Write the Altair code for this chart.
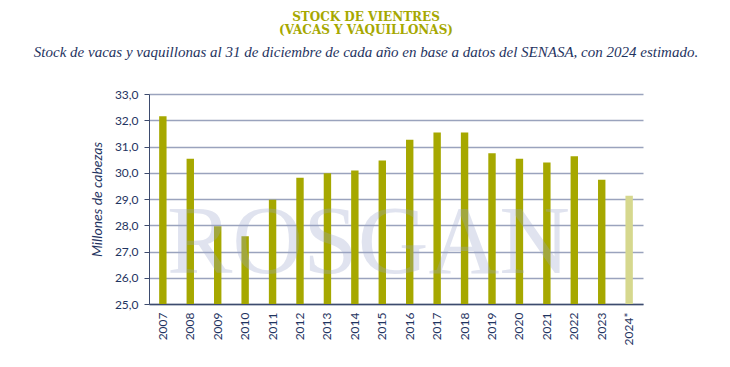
import altair as alt
import pandas as pd

years = ["2007", "2008", "2009", "2010", "2011", "2012", "2013", "2014", "2015",
         "2016", "2017", "2018", "2019", "2020", "2021", "2022", "2023", "2024*"]
values = [32.15, 30.53, 27.96, 27.58, 28.97, 29.81, 29.98, 30.09, 30.47,
          31.26, 31.53, 31.53, 30.74, 30.53, 30.39, 30.63, 29.73, 29.12]
kind = ["real"] * 17 + ["estimado"]

df = pd.DataFrame({"year": years, "value": values, "kind": kind})

NAVY = "#1f3461"
OLIVE = "#a6a800"

bars = alt.Chart(df).mark_bar(clip=True).encode(
    x=alt.X("year:N", sort=years, title=None,
            scale=alt.Scale(paddingInner=0.73, paddingOuter=0.37),
            axis=alt.Axis(labelAngle=-90, labelFont="Lato", labelFontSize=12,
                          labelColor=NAVY, ticks=False, domain=True,
                          domainColor="#3d4b6e", domainWidth=1.5,
                          labelPadding=8, labelBaseline="middle", labelAlign="right")),
    y=alt.Y("value:Q", title="Millones de cabezas",
            scale=alt.Scale(domain=[25, 33], zero=False, nice=False),
            axis=alt.Axis(values=[25, 26, 27, 28, 29, 30, 31, 32, 33],
                          labelExpr="replace(format(datum.value, '.1f'), '.', ',')",
                          labelFont="Lato", labelFontSize=12, labelColor=NAVY,
                          tickColor="#3d4b6e", tickSize=5, labelPadding=6,
                          domain=True, domainColor="#3d4b6e",
                          grid=True, gridColor="#9aa3bd", gridWidth=1.3,
                          titleFont="Lato", titleFontStyle="italic",
                          titleFontWeight="normal", titleFontSize=14,
                          titleColor=NAVY, titlePadding=10)),
    color=alt.Color("kind:N", scale=alt.Scale(domain=["real", "estimado"],
                                              range=[OLIVE, "#d6d88e"]),
                    legend=None),
)

watermark = alt.Chart(pd.DataFrame({"t": ["ROSGAN"]})).mark_text(
    font="Liberation Serif", fontSize=98, color="#9aa5cc", opacity=0.3,
    align="left", baseline="alphabetic"
).encode(text="t:N", x=alt.value(18), y=alt.value(179))

chart = alt.layer(bars, watermark).properties(
    width=494, height=210,
    autosize=alt.AutoSizeParams(type="none"),
    padding={"left": 141, "top": 86, "right": 75, "bottom": 55},
    title=alt.TitleParams(
        text=["STOCK DE VIENTRES", "(VACAS Y VAQUILLONAS)"],
        subtitle="Stock de vacas y vaquillonas al 31 de diciembre de cada año en base a datos del SENASA, con 2024 estimado.",
        font="DejaVu Serif", fontSize=12, fontWeight="bold", color=OLIVE,
        lineHeight=13,
        subtitleFont="Liberation Serif", subtitleFontStyle="italic",
        subtitleFontSize=15, subtitleColor=NAVY, subtitlePadding=8,
        anchor="middle", frame="group", dx=-30, offset=27,
    ),
).configure_view(stroke=None)

chart.save("out.html", embed_options={"renderer": "svg", "actions": False})
